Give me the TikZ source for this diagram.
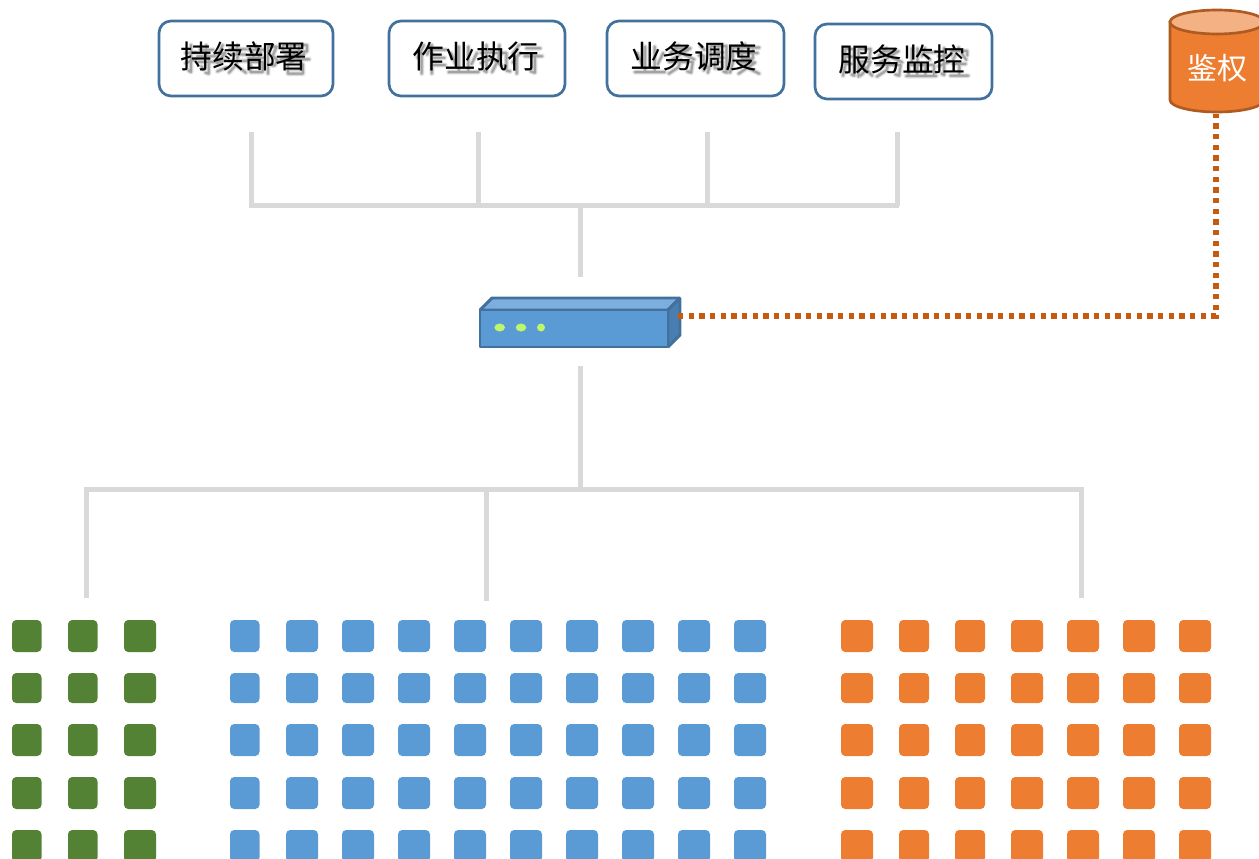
\documentclass[tikz,border=0pt]{standalone}
\usepackage{fontspec}
\newfontfamily\cjk{Noto Sans CJK SC}
\definecolor{boxline}{HTML}{41719C}
\definecolor{busgrey}{HTML}{D9D9D9}
\definecolor{linkorange}{HTML}{C55A11}
\definecolor{cellgreen}{HTML}{548235}
\definecolor{cellblue}{HTML}{5B9BD5}
\definecolor{cellorange}{HTML}{ED7D31}
\definecolor{cyltop}{HTML}{F4B183}
\definecolor{cylline}{HTML}{AE5A21}
\definecolor{boxtop}{HTML}{7CAEDE}
\definecolor{boxside}{HTML}{4A7EB0}
\definecolor{led}{HTML}{BDF56B}
\tikzset{
  taskbox/.style={draw=boxline,line width=2pt,fill=white,rounded corners=9pt,minimum height=56.25pt,inner sep=0pt},
  tasktext/.style={font=\cjk\fontsize{23.8pt}{26pt}\selectfont,text=black,inner sep=0pt},
  busline/.style={draw=busgrey,line width=3.75pt},
  authlink/.style={draw=linkorange,line width=3.9pt,dash pattern=on 4pt off 4pt},
  devline/.style={draw=boxline,line width=2.2pt,line join=bevel},
  softstroke/.style={draw=black,line cap=round,line join=round},
}
% stroke outlines of the captions, used only for the soft drop shadow (cell 0..1)
\newcommand{\ghand}{(.05,.3)--(.38,.28) (.22,.05)--(.22,.9)--(.14,.85) (.05,.62)--(.4,.48)}
\newcommand{\gchi}{\ghand (.5,.2)--(.92,.2) (.7,.05)--(.7,.4) (.42,.4)--(.98,.4) (.45,.58)--(.97,.58) (.78,.42)--(.78,.95)--(.68,.92) (.55,.72)--(.62,.82)}
\newcommand{\gxu}{(.22,.05)--(.07,.35)--(.3,.3)--(.05,.62)--(.32,.52) (.05,.88)--(.34,.75) (.45,.18)--(.95,.18) (.68,.05)--(.68,.35) (.48,.35)--(.92,.35) (.42,.55)--(.98,.55) (.7,.36)--(.66,.65)--(.42,.92) (.66,.7)--(.95,.92)}
\newcommand{\gbu}{(.25,.05)--(.28,.17) (.05,.2)--(.52,.2) (.15,.28)--(.2,.42) (.42,.28)--(.36,.42) (.03,.45)--(.55,.45) (.1,.58)--(.48,.58)--(.48,.9)--(.1,.9)--cycle (.65,.1)--(.65,.95) (.65,.1)--(.92,.1)--(.8,.38)--(.95,.55)--(.85,.7)--(.75,.68)}
\newcommand{\gshu}{(.12,.05)--(.88,.05)--(.88,.25)--(.12,.25)--cycle (.37,.05)--(.37,.25) (.63,.05)--(.63,.25) (.2,.38)--(.72,.38) (.47,.28)--(.47,.5) (.05,.5)--(.95,.5) (.8,.32)--(.3,.65) (.28,.65)--(.75,.65)--(.75,.95)--(.28,.95)--cycle (.28,.8)--(.75,.8)}
\newcommand{\gzuo}{(.25,.05)--(.05,.45) (.18,.3)--(.18,.95) (.5,.05)--(.35,.35) (.42,.2)--(.95,.2) (.5,.2)--(.5,.95) (.5,.45)--(.9,.45) (.5,.68)--(.92,.68)}
\newcommand{\gye}{(.35,.1)--(.35,.9) (.65,.1)--(.65,.9) (.1,.3)--(.25,.65) (.92,.3)--(.75,.65) (.03,.9)--(.97,.9)}
\newcommand{\gzhi}{\ghand (.43,.3)--(.85,.3)--(.85,.85)--(.97,.88) (.63,.05)--(.6,.5)--(.4,.9) (.5,.55)--(.72,.72)}
\newcommand{\gxing}{(.25,.05)--(.05,.32) (.28,.3)--(.05,.6) (.18,.45)--(.18,.95) (.48,.15)--(.92,.15) (.42,.4)--(.98,.4) (.75,.4)--(.75,.92)--(.62,.88)}
\newcommand{\gwu}{(.4,.05)--(.15,.3) (.3,.15)--(.78,.15)--(.2,.5) (.3,.22)--(.9,.5) (.1,.58)--(.85,.58)--(.8,.92)--(.68,.88) (.48,.5)--(.4,.75)--(.1,.95)}
\newcommand{\gdiao}{(.1,.08)--(.22,.2) (.05,.38)--(.2,.38)--(.2,.85)--(.32,.72) (.42,.08)--(.92,.08)--(.92,.92)--(.82,.88) (.42,.08)--(.42,.6)--(.33,.92) (.52,.28)--(.82,.28) (.67,.15)--(.67,.45) (.5,.45)--(.84,.45) (.55,.58)--(.78,.58)--(.78,.78)--(.55,.78)--cycle}
\newcommand{\gdu}{(.5,.02)--(.5,.12) (.12,.13)--(.95,.13) (.12,.13)--(.12,.6)--(.03,.92) (.25,.3)--(.9,.3) (.4,.2)--(.4,.48)--(.75,.48)--(.75,.2) (.3,.6)--(.82,.6)--(.3,.95) (.4,.68)--(.95,.95)}
\newcommand{\gfu}{(.1,.08)--(.38,.08)--(.38,.92)--(.3,.88) (.1,.08)--(.1,.6)--(.03,.92) (.1,.32)--(.38,.32) (.1,.55)--(.38,.55) (.52,.08)--(.9,.08)--(.86,.4)--(.78,.38) (.52,.08)--(.52,.95) (.56,.48)--(.9,.48)--(.78,.72)--(.58,.92) (.62,.55)--(.95,.92)}
\newcommand{\gjian}{(.2,.06)--(.2,.45) (.38,.06)--(.38,.45) (.62,.05)--(.52,.3) (.58,.18)--(.95,.18) (.65,.3)--(.78,.42) (.1,.58)--(.9,.58)--(.9,.92) (.1,.58)--(.1,.92) (.37,.58)--(.37,.92) (.63,.58)--(.63,.92) (.03,.93)--(.97,.93)}
\newcommand{\gkong}{\ghand (.68,.03)--(.68,.13) (.45,.28)--(.45,.14)--(.95,.14)--(.95,.28) (.6,.22)--(.5,.42) (.78,.22)--(.92,.42) (.5,.55)--(.9,.55) (.7,.55)--(.7,.9) (.42,.92)--(.98,.92)}
% #1,#2 caption centre, #3 index of the character, #4 its strokes
\newcommand{\charshadow}[4]{%
  \begin{scope}[shift={(#1-63.5+31.7*#3+3.5,#2-16+3.5)},x=23.8pt,y=-23.8pt]
    \draw[softstroke,line width=4.2pt,opacity=0.05] #4;
    \draw[softstroke,line width=3.2pt,opacity=0.08] #4;
    \draw[softstroke,line width=2.2pt,opacity=0.12] #4;
    \draw[softstroke,line width=1.3pt,opacity=0.16] #4;
  \end{scope}}
\newcommand{\capshadow}[6]{\charshadow{#1}{#2}{0}{#3}\charshadow{#1}{#2}{1}{#4}\charshadow{#1}{#2}{2}{#5}\charshadow{#1}{#2}{3}{#6}}
\begin{document}
\begin{tikzpicture}[x=0.75pt,y=-0.75pt]
\useasboundingbox (0,0) rectangle (1259,859);
\clip (0,0) rectangle (1259,859);

% task boxes
\node[taskbox,minimum width=130.5pt] (deploybox) at (246,58.5) {};
\node[taskbox,minimum width=132pt] (jobbox) at (477,58.5) {};
\node[taskbox,minimum width=132.75pt] (schedbox) at (695.5,58.5) {};
\node[taskbox,minimum width=132.75pt] (monbox) at (903.5,61.5) {};

\capshadow{244}{56}{\gchi}{\gxu}{\gbu}{\gshu}
\capshadow{476}{56}{\gzuo}{\gye}{\gzhi}{\gxing}
\capshadow{694}{56}{\gye}{\gwu}{\gdiao}{\gdu}
\capshadow{902}{59}{\gfu}{\gwu}{\gjian}{\gkong}

\node[tasktext] (deploy) at (244,56) {持续部署};
\node[tasktext] (job) at (476,56) {作业执行};
\node[tasktext] (sched) at (694,56) {业务调度};
\node[tasktext] (mon) at (902,59) {服务监控};

% upper bus
\coordinate (ua) at (251.5,132);
\coordinate (ub) at (478.5,132);
\coordinate (uc) at (707.7,132);
\coordinate (ud) at (897,132);
\coordinate (ul) at (249,206);
\coordinate (ur) at (899,206);
\coordinate (umid) at (580,206);
\coordinate (uend) at (580,277);
\draw[busline] (ul) -- (ur);
\draw[busline] (ua) -- (ua |- ul);
\draw[busline] (ub) -- (ub |- ul);
\draw[busline] (uc) -- (uc |- ul);
\draw[busline] (ud) -- (ud |- ul);
\draw[busline] (umid) -- (uend);

% lower bus
\coordinate (lstart) at (580,366);
\coordinate (lmid) at (580,489);
\coordinate (ll) at (84,489);
\coordinate (lr) at (1084,489);
\coordinate (la) at (86.5,598);
\coordinate (lb) at (486.5,601);
\coordinate (lc) at (1081.5,598);
\draw[busline] (ll) -- (lr);
\draw[busline] (lstart) -- (lmid);
\draw[busline] (la) -- (la |- ll);
\draw[busline] (lb) -- (lb |- ll);
\draw[busline] (lc) -- (lc |- ll);

% switch
\draw[devline,fill=boxtop] (480,310) -- (492,298) -- (680,298) -- (668,310) -- cycle;
\draw[devline,fill=boxside] (668,310) -- (680,298) -- (680,335) -- (668,347) -- cycle;
\node[devline,fill=cellblue,minimum width=141pt,minimum height=27.75pt,inner sep=0pt] (switch) at (574,328.5) {};
\fill[led] (499.7,327.5) ellipse [x radius=5.3,y radius=4];
\fill[led] (521,327.5) ellipse [x radius=5.3,y radius=4];
\fill[led] (541,327.5) ellipse [x radius=4,y radius=4];

% auth cylinder
\draw[draw=cylline,line width=2pt,fill=cellorange] (1170,22) -- (1170,100) arc[start angle=180,end angle=0,x radius=47,y radius=12] -- (1264,22) -- cycle;
\draw[draw=cylline,line width=2pt,fill=cyltop] (1217,22) ellipse [x radius=47,y radius=12];
\node[font=\cjk\fontsize{22.5pt}{26pt}\selectfont,text=white,inner sep=0pt] (auth) at (1217,68) {鉴权};

% link to auth
\coordinate (swport) at (678,316);
\coordinate (authbase) at (1216,114);
\draw[authlink] (swport) -| (authbase);

% cells
\foreach \y/\h in {620/32,673/30,724/32,777/32,830/32}{
  \foreach \x/\w in {12/29.5,68/29.5,124/32}
    \fill[cellgreen,rounded corners=3.2pt] (\x,\y) rectangle ++(\w,\h);
  \foreach \x/\w in {230/29.5,286/32,342/32,398/32,454/32,510/32,566/32,622/32,678/32,734/32}
    \fill[cellblue,rounded corners=3.2pt] (\x,\y) rectangle ++(\w,\h);
  \foreach \x/\w in {841/32,899/30,955/30,1011/32,1067/32,1123/32,1179/32}
    \fill[cellorange,rounded corners=3.2pt] (\x,\y) rectangle ++(\w,\h);
}
\end{tikzpicture}
\end{document}
